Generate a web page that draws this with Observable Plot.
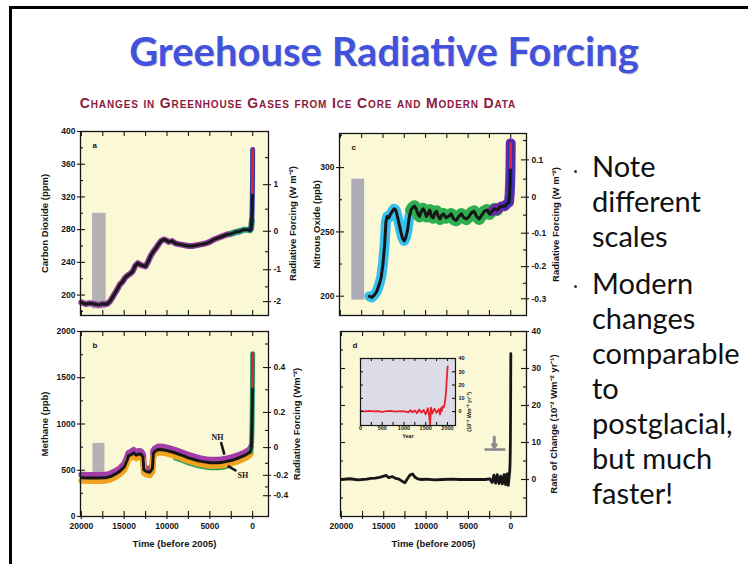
<!DOCTYPE html>
<html>
<head>
<meta charset="utf-8">
<script src="https://cdn.jsdelivr.net/npm/d3@7"></script>
<script src="https://cdn.jsdelivr.net/npm/@observablehq/plot@0.6"></script>
<style>
  body { margin: 0; background: #fff; }
  #slide { position: relative; width: 748px; height: 564px; overflow: hidden; background: #fff; }
  .border { position: absolute; left: 9px; top: 6px; width: 760px; height: 580px;
            border-left: 3px solid #000; border-top: 3px solid #000; }
  .title { position: absolute; left: 0; width: 768px; top: 27px; text-align: center;
           font: 700 40px Lato, "DejaVu Sans", sans-serif; color: #4352dc;
           text-shadow: 1px 1px 1px rgba(0,0,0,0.18); }
  .subtitle { position: absolute; left: 0; width: 596px; top: 95px; text-align: center;
              font: 700 14px "Liberation Sans", Arial, sans-serif; font-variant: small-caps;
              letter-spacing: 0.85px; color: #8b1a3c; }
  .notes { position: absolute; left: 592px; top: 0; font: 400 29px Lato, "DejaVu Sans", sans-serif;
           color: #111; line-height: 35px; }
  .notes div { position: absolute; left: 0; white-space: nowrap; }
  .dot { position: absolute; width: 3px; height: 3px; border-radius: 2px; background: #333; }
  .plotbox { position: absolute; }
</style>
</head>
<body>
<div id="slide">
  <div class="border"></div>
  <div class="title">Greehouse Radiative Forcing</div>
  <div class="subtitle">Changes in Greenhouse Gases from Ice Core and Modern Data</div>
</div>
<script>
// ---- time axis (years before 2005), shared by the four panels ----
const timeLabels = [20000, 15000, 10000, 5000, 0];
const timeTicks = [20000, 17500, 15000, 12500, 10000, 7500, 5000, 2500, 0];

// ---- (a) carbon dioxide, ppm ----
const co2Record = [
  [20000,191],[19500,189],[19000,190],[18500,189],[18000,188],[17500,189],[17000,189],
  [16600,193],[16200,200],[15800,207],[15500,213],[15200,216],[14900,221],[14600,224],
  [14300,226],[14000,229],[13700,236],[13400,239],[13100,237],[12800,236],[12500,235],
  [12200,241],[11900,248],[11600,253],[11300,257],[11000,262],[10700,266],[10400,268],
  [10100,267],[9800,265],[9400,266],[9000,263],[8500,262],[8000,261],[7500,260],[7000,260],
  [6500,261],[6000,262],[5500,263],[5000,265],[4500,268],[4000,270],[3500,272],[3000,274],
  [2500,275],[2000,277],[1500,278],[1000,280],[600,280],[300,279],[200,281],[150,285],
  [100,291],[60,305],[30,325],[10,350],[0,378]
];
const co2GlacialRange = {t1: 18700, t2: 17100, lo: 183, hi: 300};
const co2Labels = [200, 240, 280, 320, 360, 400];
const co2Minor = [180, 220, 260, 300, 340, 380];
const co2RfText = ["-2", "-1", "0", "1"];
const co2RfAt = [192, 231, 278, 335];
const co2RfMinor = [210, 253, 305, 368];

// ---- (b) methane, ppb ----
const ch4Record = [
  [20000,420],[19000,415],[18000,415],[17200,418],[16600,432],[16000,460],[15500,490],
  [15000,535],[14700,600],[14500,655],[14200,668],[13900,688],[13600,662],[13300,676],
  [13000,670],[12800,640],[12700,505],[12400,485],[12000,478],[11700,520],[11600,680],
  [11400,705],[11000,725],[10500,722],[10000,712],[9500,700],[9000,686],[8500,670],
  [8000,652],[7500,634],[7000,620],[6500,606],[6000,596],[5500,588],[5000,582],[4500,580],
  [4000,582],[3500,587],[3000,596],[2500,606],[2000,620],[1500,638],[1000,658],[600,678],
  [300,700],[200,722],[120,800],[80,950],[50,1150],[25,1400],[10,1600],[0,1760]
];
const ch4GlacialRange = {t1: 18650, t2: 17250, lo: 370, hi: 790};
const ch4Labels = [0, 500, 1000, 1500, 2000];
const ch4Minor = [250, 750, 1250, 1750];
const ch4RfText = ["0.4", "0.2", "0", "-0.2", "-0.4"];
const ch4RfAt = [1610, 1125, 745, 445, 225];
const ch4RfMinor = [1865, 1370, 930, 575, 320];
const ch4Hemispheres = [{t: 4100, v: 860, name: "NH"}, {t: 1150, v: 445, name: "SH"}];
const ch4Pointers = [{t1: 3700, v1: 805, t2: 3300, v2: 668}, {t1: 2900, v1: 548, t2: 1900, v2: 492}];

// ---- (c) nitrous oxide, ppb ----
const n2oRecord = [
  [16600,200],[16300,199],[16000,201],[15700,204],[15400,210],[15200,215],[15000,225],
  [14800,240],[14650,258],[14500,262],[14300,261],[14100,264],[13900,266],[13700,268],
  [13500,267],[13300,262],[13100,256],[12900,250],[12700,245],[12500,243],[12300,246],
  [12100,252],[11900,262],[11700,267],[11500,269],[11300,270],[11100,268],[10900,264],
  [10700,262],[10500,266],[10300,268],[10100,266],[9900,262],[9700,264],[9500,267],
  [9300,262],[9100,261],[8900,265],[8700,266],[8500,262],[8300,260],[8100,263],[7900,264],
  [7600,261],[7300,262],[7000,264],[6700,260],[6400,259],[6100,262],[5800,264],[5500,261],
  [5200,260],[4900,262],[4600,265],[4300,266],[4000,262],[3700,260],[3400,263],[3100,266],
  [2800,267],[2500,264],[2200,266],[1900,268],[1600,267],[1300,269],[1000,270],[700,270],
  [400,272],[200,273],[120,280],[60,290],[30,300],[10,310],[0,319]
];
const n2oGlacialRange = {t1: 18650, t2: 17150, lo: 197, hi: 291};
const n2oLabels = [200, 250, 300];
const n2oMinor = [225, 275, 325];
const n2oRfText = ["0.1", "0", "-0.1", "-0.2", "-0.3"];
const n2oRfAt = [306, 277, 249, 223, 198];
const n2oRfMinor = [321, 291, 263, 236, 210];

// ---- (d) rate of change of combined forcing, 10^-2 W m^-2 yr^-1 ----
const rateRecord = [
  [20000,0],[19000,0.2],[18000,-0.1],[17000,0.1],[16500,0.3],[16000,0.4],[15500,0.6],
  [15000,0.9],[14700,1.1],[14400,0.5],[14000,0.8],[13600,0.3],[13200,0.1],[12800,-0.5],
  [12500,-0.9],[12200,0.2],[11900,1.2],[11600,1.5],[11300,0.6],[11000,0.2],[10500,0],
  [10000,0.1],[9000,-0.1],[8000,0],[7000,0.1],[6000,0],[5000,0],[4000,0.05],[3000,0],
  [2500,0.2],[2200,-0.8],[2000,1.2],[1800,-1],[1600,1.3],[1400,-1.1],[1200,0.9],[1000,-1.2],
  [800,1.3],[600,-1.4],[450,1.5],[300,-1.6],[200,0.8],[120,2.5],[80,5],[50,10],[30,18],
  [15,26],[0,34]
];
const rateLabels = [0, 10, 20, 30, 40];
const rateMinor = [-5, 5, 15, 25, 35];
const modernMarker = {t: 1950, from: 11.5, to: 8.6, level: 8.1, t1: 3050, t2: 590};

// ---- (d) inset: last two millennia, by calendar year ----
const insetRecord = [
  [0,0.5],[100,0.2],[200,0.6],[300,0.1],[400,0.4],[500,-0.2],[600,0.3],[700,0.5],[800,0],
  [900,0.4],[1000,0.2],[1100,-0.5],[1150,1],[1200,-0.6],[1250,0.8],[1300,-1.2],[1350,1.5],
  [1400,-0.8],[1450,1.2],[1500,-2],[1550,2.5],[1580,-3],[1600,-10],[1620,3],[1650,-1.5],
  [1700,2.2],[1750,-1],[1800,1.8],[1830,-2.2],[1850,2.5],[1870,0.5],[1890,4],[1910,3],
  [1930,5],[1950,9],[1965,14],[1980,22],[1995,30],[2005,34]
];
const insetYearLabels = [0, 500, 1000, 1500, 2000];
const insetYearTicks = [0, 250, 500, 750, 1000, 1250, 1500, 1750, 2000];

// ---------------------------------------------------------------
const INK = "#161616";
const PANEL_BG = "#fbf8d6";
const BAR_GREY = "#b5b2b4";
const X_DOMAIN = [20100, -1850];
const rows = pairs => pairs.map(([t, v]) => ({t, v}));
const fmt = d => String(d);
const slide = document.getElementById("slide");

// tick marks straddling the frame edge
function ticksY(vals, side, w, inner, outer) {
  return Plot.tickY(vals, {
    y: d => d, stroke: INK, strokeWidth: 1.1,
    insetLeft: side === "left" ? -outer : w - inner,
    insetRight: side === "left" ? w - inner : -outer
  });
}
function ticksX(vals, side, h, inner, outer) {
  return Plot.tickX(vals, {
    x: d => d, stroke: INK, strokeWidth: 1.1,
    insetTop: side === "top" ? -outer : h - inner,
    insetBottom: side === "top" ? h - inner : -outer
  });
}
function labelAxis(vals, anchor, texts, at) {
  const lookup = texts ? new Map(at.map((p, i) => [p, texts[i]])) : null;
  return Plot.axisY(vals, {
    anchor, tickSize: 0, tickPadding: 5, label: null,
    tickFormat: lookup ? d => lookup.get(d) : fmt
  });
}
function sideTitle(text, anchor, offset) {
  return Plot.text([text], {
    frameAnchor: anchor, dx: offset, rotate: -90,
    fontSize: 9.5, fontWeight: "bold", textAnchor: "middle"
  });
}
function letter(ch) {
  return Plot.text([ch], {frameAnchor: "top-left", dx: 12, dy: 11, fontSize: 8, fontWeight: "bold"});
}

function place(o) {
  const chart = Plot.plot({
    width: o.w + o.ml + o.mr,
    height: o.h + o.mt + o.mb,
    marginLeft: o.ml, marginRight: o.mr, marginTop: o.mt, marginBottom: o.mb,
    x: {domain: o.xDomain || X_DOMAIN, ...(o.xAxis ? {} : {axis: null})},
    y: {domain: o.yDomain},
    style: {
      background: "transparent", color: INK, overflow: "visible",
      fontFamily: "'Liberation Sans', Arial, sans-serif",
      fontSize: (o.fontSize || 8.5) + "px", fontWeight: "bold"
    },
    marks: o.marks
  });
  chart.classList.add("plotbox");
  chart.style.left = (o.left - o.ml) + "px";
  chart.style.top = (o.top - o.mt) + "px";
  chart.style.maxWidth = "none";
  slide.appendChild(chart);
}

function timeAxisBottom() {
  return [
    Plot.axisX(timeLabels, {anchor: "bottom", tickSize: 0, tickPadding: 6, label: null, tickFormat: fmt}),
    Plot.text(["Time (before 2005)"], {frameAnchor: "bottom", dy: 30, fontSize: 9.5, fontWeight: "bold"})
  ];
}

// ---- panel a ----
{
  const w = 188, h = 184;
  const co2 = rows(co2Record);
  place({
    left: 80, top: 131, w, h, ml: 46, mr: 34, mt: 4, mb: 6, yDomain: [175, 400],
    marks: [
      Plot.frame({fill: PANEL_BG}),
      Plot.rect([co2GlacialRange], {x1: "t1", x2: "t2", y1: "lo", y2: "hi", fill: BAR_GREY}),
      Plot.line(co2.filter(d => d.t >= 1200), {x: "t", y: "v", stroke: "#8b3f96", strokeWidth: 6}),
      Plot.line(co2.filter(d => d.t <= 2600 && d.t >= 100), {x: "t", y: "v", stroke: "#23987e", strokeWidth: 6}),
      Plot.line(co2.filter(d => d.t <= 200), {x: "t", y: "v", stroke: "#2b3fb8", strokeWidth: 5}),
      Plot.line(co2, {x: "t", y: "v", stroke: INK, strokeWidth: 3}),
      Plot.line(co2.filter(d => d.t <= 30), {x: "t", y: "v", stroke: "#d9262b", strokeWidth: 3}),
      Plot.frame({stroke: INK, strokeWidth: 1.3}),
      ticksY(co2Labels, "left", w, 5, 3), ticksY(co2Minor, "left", w, 3, 0),
      ticksY(co2RfAt, "right", w, 5, 3), ticksY(co2RfMinor, "right", w, 3, 0),
      ticksX(timeTicks, "top", h, 5, 0), ticksX(timeTicks, "bottom", h, 5, 0),
      labelAxis(co2Labels, "left"),
      labelAxis(co2RfAt, "right", co2RfText, co2RfAt),
      sideTitle("Carbon Dioxide (ppm)", "left", -36),
      sideTitle("Radiative Forcing (W m⁻²)", "right", 24),
      letter("a")
    ]
  });
}

// ---- panel b ----
{
  const w = 188, h = 185;
  const ch4 = rows(ch4Record);
  place({
    left: 80, top: 331, w, h, ml: 46, mr: 36, mt: 4, mb: 40, yDomain: [0, 2000], xAxis: true,
    marks: [
      Plot.frame({fill: PANEL_BG}),
      Plot.rect([ch4GlacialRange], {x1: "t1", x2: "t2", y1: "lo", y2: "hi", fill: BAR_GREY}),
      Plot.line(ch4.filter(d => d.t >= 150), {x: "t", y: "v", dy: -3, stroke: "#a23ca8", strokeWidth: 6}),
      Plot.line(ch4.filter(d => d.t <= 9000 && d.t >= 3000), {x: "t", y: "v", dy: 5, stroke: "#2c9f55", strokeWidth: 5}),
      Plot.line(ch4.filter(d => d.t >= 150), {x: "t", y: "v", dy: 3, stroke: "#f0a21e", strokeWidth: 6}),
      Plot.line(ch4.filter(d => d.t <= 300), {x: "t", y: "v", stroke: "#25a070", strokeWidth: 5}),
      Plot.line(ch4, {x: "t", y: "v", stroke: INK, strokeWidth: 3}),
      Plot.line(ch4.filter(d => d.t <= 25), {x: "t", y: "v", stroke: "#d9262b", strokeWidth: 3}),
      Plot.link(ch4Pointers, {x1: "t1", y1: "v1", x2: "t2", y2: "v2", stroke: INK, strokeWidth: 2.6}),
      Plot.text(ch4Hemispheres, {x: "t", y: "v", text: "name", fontFamily: "'Liberation Serif', serif", fontSize: 8, fontWeight: "bold"}),
      Plot.frame({stroke: INK, strokeWidth: 1.3}),
      ticksY(ch4Labels, "left", w, 5, 3), ticksY(ch4Minor, "left", w, 3, 0),
      ticksY(ch4RfAt, "right", w, 5, 3), ticksY(ch4RfMinor, "right", w, 3, 0),
      ticksX(timeTicks, "top", h, 5, 0), ticksX(timeTicks, "bottom", h, 5, 3),
      labelAxis(ch4Labels, "left"),
      labelAxis(ch4RfAt, "right", ch4RfText, ch4RfAt),
      sideTitle("Methane (ppb)", "left", -36),
      sideTitle("Radiative Forcing (Wm⁻²)", "right", 28),
      ...timeAxisBottom(),
      letter("b")
    ]
  });
}

// ---- panel c ----
{
  const w = 187, h = 182;
  const n2o = rows(n2oRecord);
  place({
    left: 339, top: 133, w, h, ml: 30, mr: 36, mt: 4, mb: 6, yDomain: [185, 326.5],
    marks: [
      Plot.frame({fill: PANEL_BG}),
      Plot.rect([n2oGlacialRange], {x1: "t1", x2: "t2", y1: "lo", y2: "hi", fill: "#adabb8"}),
      Plot.line(n2o.filter(d => d.t >= 11600), {x: "t", y: "v", stroke: "#37bfee", strokeWidth: 10}),
      Plot.line(n2o.filter(d => d.t <= 11800 && d.t >= 1500), {x: "t", y: "v", stroke: "#2fae4f", strokeWidth: 12}),
      Plot.line(n2o.filter(d => d.t <= 2200), {x: "t", y: "v", stroke: "#6a2ba0", strokeWidth: 10}),
      Plot.line(n2o.filter(d => d.t <= 900), {x: "t", y: "v", stroke: "#2a33d0", strokeWidth: 6}),
      Plot.line(n2o, {x: "t", y: "v", stroke: INK, strokeWidth: 3}),
      Plot.line(n2o.filter(d => d.t <= 30), {x: "t", y: "v", stroke: "#e0262b", strokeWidth: 3}),
      Plot.frame({stroke: INK, strokeWidth: 1.3}),
      ticksY(n2oLabels, "left", w, 5, 3), ticksY(n2oMinor, "left", w, 3, 0),
      ticksY(n2oRfAt, "right", w, 5, 3), ticksY(n2oRfMinor, "right", w, 3, 0),
      ticksX(timeTicks, "top", h, 5, 0), ticksX(timeTicks, "bottom", h, 5, 0),
      labelAxis(n2oLabels, "left"),
      labelAxis(n2oRfAt, "right", n2oRfText, n2oRfAt),
      sideTitle("Nitrous Oxide (ppb)", "left", -23),
      sideTitle("Radiative Forcing (W m⁻²)", "right", 29),
      letter("c")
    ]
  });
}

// ---- panel d ----
{
  const w = 186, h = 185;
  const rate = rows(rateRecord);
  const m = modernMarker;
  place({
    left: 340, top: 331, w, h, ml: 10, mr: 36, mt: 4, mb: 40, yDomain: [-10, 40], xAxis: true,
    marks: [
      Plot.frame({fill: PANEL_BG}),
      Plot.line(rate, {x: "t", y: "v", stroke: INK, strokeWidth: 2.8}),
      Plot.ruleY([m], {y: "level", x1: "t1", x2: "t2", stroke: "#8c8a8a", strokeWidth: 2.6}),
      Plot.arrow([m], {x1: "t", x2: "t", y1: "from", y2: "to", stroke: "#8c8a8a", strokeWidth: 3, headLength: 6}),
      Plot.frame({stroke: INK, strokeWidth: 1.3}),
      ticksY(rateLabels, "left", w, 5, 0), ticksY(rateMinor, "left", w, 3, 0),
      ticksY(rateLabels, "right", w, 5, 3), ticksY(rateMinor, "right", w, 3, 0),
      ticksX(timeTicks, "top", h, 5, 0), ticksX(timeTicks, "bottom", h, 5, 3),
      labelAxis(rateLabels, "right"),
      sideTitle("Rate of Change (10⁻² Wm⁻² yr⁻¹)", "right", 27),
      ...timeAxisBottom(),
      letter("d")
    ]
  });
}

// ---- inset in panel d ----
{
  const w = 95, h = 67;
  const rec = rows(insetRecord);
  place({
    left: 360, top: 358, w, h, ml: 4, mr: 22, mt: 3, mb: 18,
    xDomain: [0, 2185], yDomain: [-10.5, 40], xAxis: true, fontSize: 5.5,
    marks: [
      Plot.frame({fill: "#dcdce8"}),
      Plot.line(rec, {x: "t", y: "v", stroke: "#e8202c", strokeWidth: 1.8}),
      Plot.frame({stroke: INK, strokeWidth: 1.2}),
      ticksY(rateLabels, "left", w, 3, 0), ticksY(rateLabels, "right", w, 3, 0),
      ticksX(insetYearTicks, "top", h, 3, 0), ticksX(insetYearTicks, "bottom", h, 3, 0),
      Plot.axisY(rateLabels, {anchor: "right", tickSize: 0, tickPadding: 3, label: null, tickFormat: fmt}),
      Plot.axisX(insetYearLabels, {anchor: "bottom", tickSize: 0, tickPadding: 1, label: null, tickFormat: fmt}),
      Plot.text(["Year"], {frameAnchor: "bottom", dy: 12, fontSize: 5.5, fontWeight: "bold"}),
      Plot.text(["(10⁻² Wm⁻² yr⁻¹)"], {frameAnchor: "right", dx: 14, rotate: -90, fontSize: 5.5, fontWeight: "bold"})
    ]
  });
}

// ---- bullet notes on the right ----
{
  const notes = document.createElement("div");
  notes.className = "notes";
  const lines = [
    ["Note", 148], ["different", 183], ["scales", 218],
    ["Modern", 265], ["changes", 300], ["comparable", 335], ["to", 370],
    ["postglacial,", 405], ["but much", 440], ["faster!", 475]
  ];
  for (const [text, y] of lines) {
    const el = document.createElement("div");
    el.textContent = text;
    el.style.top = y + "px";
    notes.appendChild(el);
  }
  slide.appendChild(notes);
  for (const y of [170, 285]) {
    const dot = document.createElement("div");
    dot.className = "dot";
    dot.style.left = "574px";
    dot.style.top = y + "px";
    slide.appendChild(dot);
  }
}
</script>
</body>
</html>
